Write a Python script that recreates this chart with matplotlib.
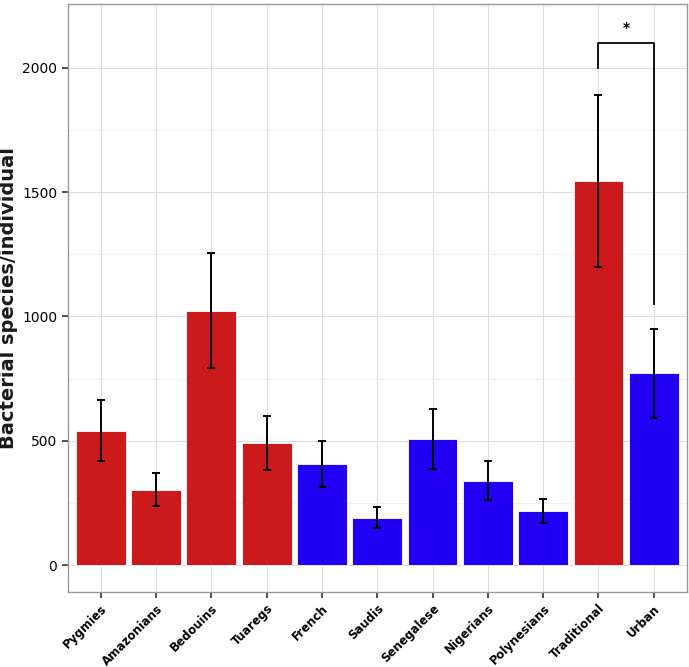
import numpy as np
import matplotlib.pyplot as plt
from matplotlib.ticker import MultipleLocator

# data
groups = ['Pygmies', 'Amazonians', 'Bedouins', 'Tuaregs', 'French', 'Saudis',
          'Senegalese', 'Nigerians', 'Polynesians', 'Traditional', 'Urban']
means = [540, 302, 1021, 490, 406, 191, 506, 340, 217, 1546, 771]
err_low = [419, 237, 791, 381, 314, 150, 386, 262, 170, 1198, 593]
err_high = [664, 369, 1256, 600, 499, 233, 629, 418, 265, 1892, 948]
lifestyle = ['trad', 'trad', 'trad', 'trad', 'urb', 'urb', 'urb', 'urb', 'urb', 'trad', 'urb']

# significance bracket between Traditional and Urban
bracket_top = 2100
bracket_left_end = 2000
bracket_right_end = 1052

colours = {'trad': '#CC1A1C', 'urb': '#2200F5'}

fig = plt.figure(figsize=(6.89, 6.67), dpi=100)
ax = fig.add_axes([0.098, 0.113, 0.899, 0.881])

x = np.arange(1, len(groups) + 1)
bar_cols = [colours[l] for l in lifestyle]
ax.bar(x, means, width=0.9, color=bar_cols, edgecolor='white', linewidth=0.6, zorder=2)

means_a = np.array(means)
yerr = [means_a - np.array(err_low), np.array(err_high) - means_a]
ax.errorbar(x, means, yerr=yerr, fmt='none', ecolor='black', elinewidth=1.4,
            capsize=3, capthick=1.4, zorder=3)

# bracket
i_t = groups.index('Traditional') + 1
i_u = groups.index('Urban') + 1
ax.plot([i_t, i_t, i_u, i_u], [bracket_left_end, bracket_top, bracket_top, bracket_right_end],
        color='black', linewidth=1.3, zorder=3)
ax.text((i_t + i_u) / 2, bracket_top + 60, '*', ha='center', va='center', fontsize=10,
        fontweight='bold')

ax.set_xlim(0.4, len(groups) + 0.6)
ax.set_ylim(-107, 2257)
ax.set_xticks(x)
ax.set_xticklabels(groups, rotation=45, ha='right', rotation_mode='anchor',
                   fontsize=8.5, fontweight='bold')
ax.yaxis.set_major_locator(MultipleLocator(500))
ax.yaxis.set_minor_locator(MultipleLocator(250))
ax.tick_params(axis='y', which='minor', length=0)
ax.tick_params(axis='both', which='major', length=4, width=1.2, color='#333333',
               labelcolor='black')
ax.tick_params(axis='y', labelsize=10)

ax.grid(which='major', color='#DDDDDD', linewidth=0.8, zorder=0)
ax.grid(which='minor', axis='y', color='#EFEFEF', linewidth=0.6, zorder=0)
ax.set_axisbelow(True)
for s in ax.spines.values():
    s.set_color('#999999')
    s.set_linewidth(1.0)

ax.set_ylabel('Bacterial species/individual', fontsize=14, fontweight='bold', labelpad=3,
              color='#1a1a1a')

fig.savefig('out.png', dpi=100)
